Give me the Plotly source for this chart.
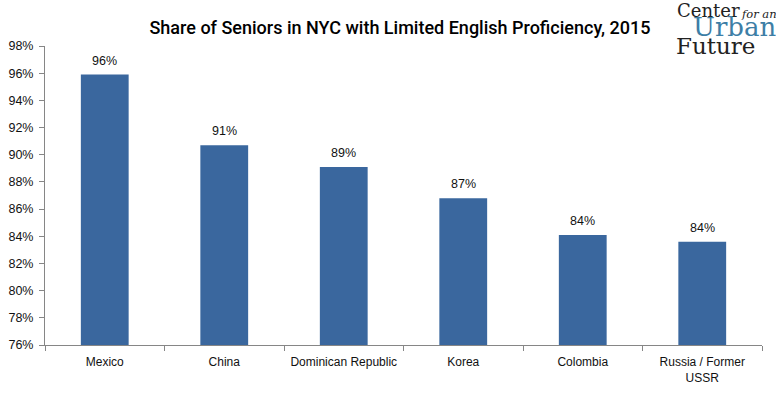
import plotly.graph_objects as go

categories = ["Mexico", "China", "Dominican Republic", "Korea", "Colombia", "Russia / Former<br>USSR"]
values = [95.9, 90.7, 89.1, 86.8, 84.1, 83.6]
labels = ["96%", "91%", "89%", "87%", "84%", "84%"]
ytick_vals = list(range(76, 100, 2))
ytick_text = [f"{v}%" for v in ytick_vals]

W, H = 776, 394
L, R, T, B = 45, 14, 46, 49

def px(x):
    return (x - L) / (W - L - R)

def py(y):
    return (H - B - y) / (H - T - B)

fig = go.Figure(go.Bar(
    x=categories, y=values,
    marker=dict(color="#3A679E", line=dict(width=0)),
    width=0.4,
))

for c, v, lab in zip(categories, values, labels):
    fig.add_annotation(x=c, y=v, text=lab, showarrow=False, yanchor="middle", yshift=14,
                       font=dict(family="Liberation Sans", size=12.5, color="#111"))

fig.update_layout(
    width=W, height=H,
    margin=dict(l=L, r=R, t=T, b=B, autoexpand=False),
    paper_bgcolor="white", plot_bgcolor="white",
    showlegend=False,
    title=dict(text="Share of Seniors in NYC with Limited English Proficiency, 2015",
               x=400 / W, xanchor="center", y=1 - 28 / H, yanchor="middle",
               font=dict(family="Roboto", size=18, weight=500, color="#000")),
    xaxis=dict(type="category", tickson="boundaries", ticks="outside", ticklen=5,
               tickcolor="#868686", showline=True, linecolor="#868686", linewidth=1,
               showgrid=False, ticklabelstandoff=6, tickangle=0, automargin=False,
               tickfont=dict(family="Liberation Sans", size=12, color="#111")),
    yaxis=dict(range=[76, 98], tickvals=ytick_vals, ticktext=ytick_text, ticks="outside",
               ticklen=5, tickcolor="#868686", showline=True, linecolor="#868686",
               linewidth=1, showgrid=False, zeroline=False, ticklabelstandoff=3,
               automargin=False,
               tickfont=dict(family="Liberation Sans", size=12.5, color="#111")),
    font=dict(family="Liberation Sans"),
)

logo = [
    ("Center", 676, 10, 18, "#222", False),
    ("for an", 740, 14, 11.5, "#222", True),
    ("Urban", 692, 27, 26, "#3D7EA6", False),
    ("Future", 675, 46, 23, "#222", False),
]
for txt, x0, yc, size, col, ital in logo:
    t = f"<i>{txt}</i>" if ital else txt
    fig.add_annotation(text=t, xref="paper", yref="paper", x=px(x0), y=py(yc),
                       xanchor="left", yanchor="middle", showarrow=False,
                       borderpad=0,
                       font=dict(family="DejaVu Serif", size=size, color=col))

fig.write_html("out.html", config={"displayModeBar": False},
               post_script="document.body.style.margin='0';document.body.style.padding='0';")
